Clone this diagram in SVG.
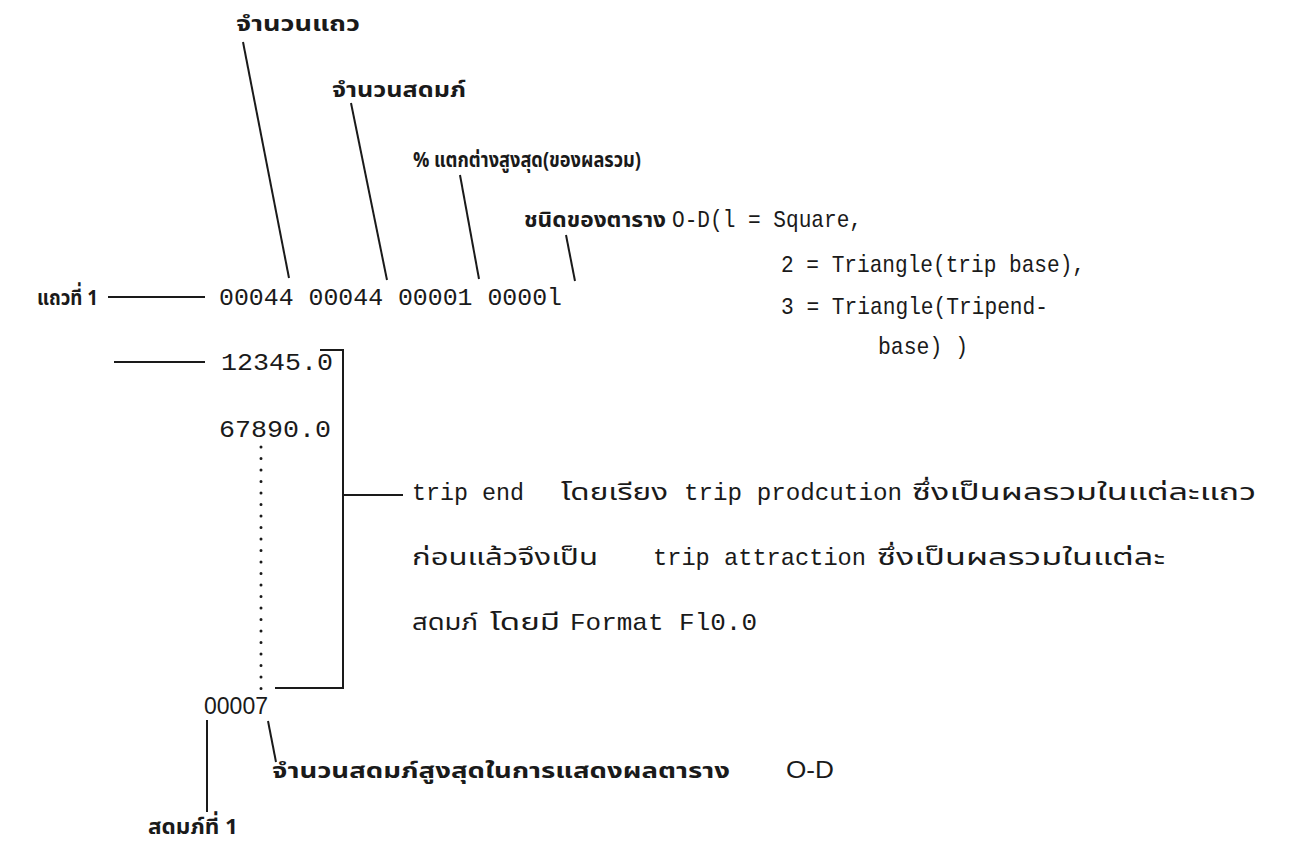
<svg xmlns="http://www.w3.org/2000/svg" width="1297" height="847" viewBox="0 0 1297 847">
<style>
.th{font-family:"Noto Sans Thai","Loma","Garuda","Tlwg Typo","Noto Sans",sans-serif;font-size:22px;font-weight:bold;fill:#1a1a1a}
.tn{font-family:"Noto Sans Thai","Loma","Garuda","Tlwg Typo","Noto Sans",sans-serif;font-size:23px;font-weight:normal;fill:#1a1a1a}
.mo{font-family:"Liberation Mono","Courier New",monospace;font-size:24px;fill:#1a1a1a}
.sa{font-family:"Liberation Sans",Arial,sans-serif;font-size:24px;fill:#1a1a1a}
.ln{stroke:#1a1a1a;stroke-width:2;fill:none}
</style>
<rect width="1297" height="847" fill="#ffffff"/>
<g id="connectors">
<line class="ln" x1="243" y1="42" x2="289" y2="278" stroke-width="2.4"/>
<line class="ln" x1="351" y1="103" x2="387" y2="280"/>
<line class="ln" x1="460" y1="175" x2="479" y2="279"/>
<line class="ln" x1="566" y1="235" x2="575" y2="281"/>
<line class="ln" x1="108" y1="297" x2="205" y2="297"/>
<line class="ln" x1="114" y1="362" x2="205" y2="362"/>
<path class="ln" d="M320,350 H343 V688 H275"/>
<line class="ln" x1="343" y1="495" x2="403" y2="495"/>
<line x1="261" y1="447" x2="261" y2="692" stroke="#1a1a1a" stroke-width="3" stroke-linecap="round" stroke-dasharray="0 11.5"/>
<line class="ln" x1="207" y1="720" x2="207" y2="812"/>
<line class="ln" x1="268" y1="721" x2="276" y2="762"/>
</g>
<g id="label-rows"><text class="th" x="236" y="31" textLength="124" lengthAdjust="spacingAndGlyphs">จำนวนแถว</text></g>
<g id="label-cols"><text class="th" x="332" y="97" textLength="134" lengthAdjust="spacingAndGlyphs">จำนวนสดมภ์</text></g>
<g id="label-pct"><text class="th" x="413" y="167" textLength="228" lengthAdjust="spacingAndGlyphs">% แตกต่างสูงสุด(ของผลรวม)</text></g>
<g id="label-type">
<text class="th" x="524" y="227" textLength="142" lengthAdjust="spacingAndGlyphs">ชนิดของตาราง</text>
<text class="mo" x="672" y="227" textLength="190" lengthAdjust="spacingAndGlyphs">O-D(l = Square,</text>
<text class="mo" x="781" y="272" textLength="304" lengthAdjust="spacingAndGlyphs">2 = Triangle(trip base),</text>
<text class="mo" x="781" y="314" textLength="267" lengthAdjust="spacingAndGlyphs">3 = Triangle(Tripend-</text>
<text class="mo" x="878" y="354" textLength="90" lengthAdjust="spacingAndGlyphs">base) )</text>
</g>
<g id="row1">
<text class="th" x="37" y="305" textLength="61" lengthAdjust="spacingAndGlyphs">แถวที่ 1</text>
<text class="mo" x="219" y="305" textLength="343" lengthAdjust="spacingAndGlyphs">00044 00044 00001 0000l</text>
</g>
<g id="values">
<text class="mo" x="221" y="370" textLength="112" lengthAdjust="spacingAndGlyphs">12345.0</text>
<text class="mo" x="219" y="437" textLength="112" lengthAdjust="spacingAndGlyphs">67890.0</text>
</g>
<g id="trip-end-note">
<text class="mo" x="412" y="500" textLength="112" lengthAdjust="spacingAndGlyphs">trip end</text>
<text class="tn" x="561" y="500" textLength="107" lengthAdjust="spacingAndGlyphs">โดยเรียง</text>
<text class="mo" x="684" y="500" textLength="218" lengthAdjust="spacingAndGlyphs">trip prodcution</text>
<text class="tn" x="912" y="500" textLength="344" lengthAdjust="spacingAndGlyphs">ซึ่งเป็นผลรวมในแต่ละแถว</text>
<text class="tn" x="412" y="565" textLength="186" lengthAdjust="spacingAndGlyphs">ก่อนแล้วจึงเป็น</text>
<text class="mo" x="653" y="565" textLength="213" lengthAdjust="spacingAndGlyphs">trip attraction</text>
<text class="tn" x="877" y="565" textLength="288" lengthAdjust="spacingAndGlyphs">ซึ่งเป็นผลรวมในแต่ละ</text>
<text class="tn" x="412" y="630" textLength="66" lengthAdjust="spacingAndGlyphs">สดมภ์</text>
<text class="tn" x="490" y="630" textLength="70" lengthAdjust="spacingAndGlyphs">โดยมี</text>
<text class="mo" x="570" y="630" textLength="187" lengthAdjust="spacingAndGlyphs">Format Fl0.0</text>
</g>
<g id="max-cols">
<text class="sa" x="204" y="714" textLength="64" lengthAdjust="spacingAndGlyphs">00007</text>
<text class="th" x="272" y="778" textLength="458" lengthAdjust="spacingAndGlyphs">จำนวนสดมภ์สูงสุดในการแสดงผลตาราง</text>
<text class="sa" x="786" y="778" font-size="20" textLength="48" lengthAdjust="spacingAndGlyphs">O-D</text>
</g>
<g id="col1"><text class="th" x="148" y="834" textLength="90" lengthAdjust="spacingAndGlyphs">สดมภ์ที่ 1</text></g>
</svg>
